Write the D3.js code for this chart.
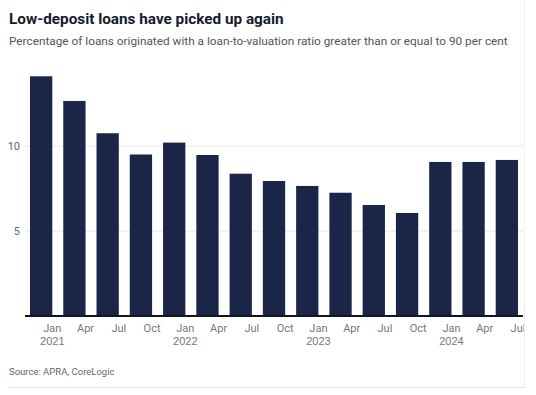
<!DOCTYPE html>
<html>
<head>
<meta charset="utf-8">
<script src="https://cdn.jsdelivr.net/npm/d3@7"></script>
<style>
  body { margin: 0; background: #fff; }
  svg { display: block; font-family: Roboto, "Noto Sans", sans-serif; }
</style>
</head>
<body>
<svg id="svg"></svg>
<script>
// data
let quarters = ['Jan', 'Apr', 'Jul', 'Oct', 'Jan', 'Apr', 'Jul', 'Oct', 'Jan', 'Apr', 'Jul', 'Oct', 'Jan', 'Apr', 'Jul']
let years = ['2021', '', '', '', '2022', '', '', '', '2023', '', '', '', '2024', '', '']
let shares = [14.1, 12.65, 10.75, 9.5, 10.2, 9.47, 8.37, 7.94, 7.65, 7.25, 6.53, 6.06, 9.06, 9.06, 9.18]
let yTicks = [5, 10]

let width = 536, height = 395
let svg = d3.select('#svg').attr('width', width).attr('height', height)

//title + subtitle
svg.append('text')
    .attr('x', 9).attr('y', 24)
    .attr('font-size', 15.3).attr('font-weight', 700)
    .attr('fill', '#141b30')
    .text('Low-deposit loans have picked up again')
svg.append('text')
    .attr('x', 9).attr('y', 45)
    .attr('font-size', 11.8)
    .attr('fill', '#555')
    .text('Percentage of loans originated with a loan-to-valuation ratio greater than or equal to 90 per cent')

let idx = shares.map((d, i) => i)

//scales
let x = d3.scaleBand()
    .domain(idx)
    .range([25, 523])
    .paddingInner(0.33)
    .paddingOuter(0.15)
let y = d3.scaleLinear()
    .domain([0, 10])
    .range([316, 146])

//gridlines + y labels
let grid = svg.append('g')
grid.selectAll('line')
    .data(yTicks)
    .join('line')
    .attr('x1', 25).attr('x2', 523)
    .attr('y1', d => y(d)).attr('y2', d => y(d))
    .attr('stroke', '#e8e8e8')
grid.selectAll('text')
    .data(yTicks)
    .join('text')
    .attr('x', 20).attr('y', d => y(d))
    .attr('dy', '0.35em')
    .attr('text-anchor', 'end')
    .attr('font-size', 11)
    .attr('fill', '#666')
    .text(d => d)

//bars
svg.append('g')
    .attr('fill', '#1b2547')
    .selectAll('rect')
    .data(shares)
    .join('rect')
    .attr('x', (d, i) => x(i))
    .attr('y', d => y(d))
    .attr('width', x.bandwidth())
    .attr('height', d => y(0) - y(d))

//x axis, labels sit at the right edge of each bar
let xAxis = d3.axisBottom(x)
    .tickSize(0)
    .tickPadding(8)
    .tickFormat(i => quarters[i])
let xGroup = svg.append('g')
    .attr('transform', `translate(${x.bandwidth() / 2},${y(0)})`)
    .call(xAxis)
xGroup.select('.domain').remove()
xGroup.selectAll('text')
    .attr('font-size', 11)
    .attr('font-family', 'Roboto, "Noto Sans", sans-serif')
    .attr('fill', '#777')
xGroup.selectAll('.tick')
    .append('text')
    .attr('y', 21)
    .attr('dy', '0.71em')
    .attr('font-size', 11)
    .attr('fill', '#777')
    .attr('text-anchor', 'middle')
    .text(i => years[i])

svg.append('line')
    .attr('x1', 25).attr('x2', 523)
    .attr('y1', y(0)).attr('y2', y(0))
    .attr('stroke', '#111522')
    .attr('stroke-width', 2)

//source + frame
svg.append('text')
    .attr('x', 9).attr('y', 375)
    .attr('font-size', 9.5)
    .attr('fill', '#666')
    .text('Source: APRA, CoreLogic')
svg.append('line')
    .attr('x1', 8).attr('x2', 525)
    .attr('y1', 387.5).attr('y2', 387.5)
    .attr('stroke', '#e3e3e3')
svg.append('line')
    .attr('x1', 524.5).attr('x2', 524.5)
    .attr('y1', 0).attr('y2', 387.5)
    .attr('stroke', '#f0f0f0')
</script>
</body>
</html>
